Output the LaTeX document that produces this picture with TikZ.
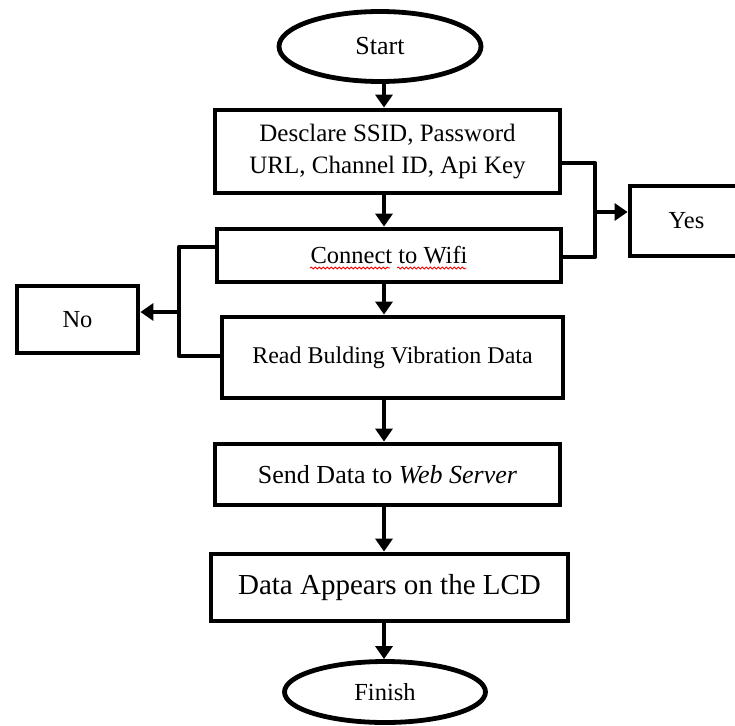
\documentclass[tikz,border=0pt]{standalone}
\usepackage{fontspec}
\setmainfont{Liberation Serif}
\usetikzlibrary{arrows.meta,shapes.geometric,decorations.pathmorphing}
\begin{document}
\begin{tikzpicture}[x=1pt,y=-1pt,
  box/.style={draw, line width=4.8pt, rectangle, inner sep=0pt, align=center,
    font=\fontsize{24.5}{32}\selectfont},
  term/.style={draw, line width=4.8pt, ellipse, inner sep=0pt,
    font=\fontsize{24.5}{30}\selectfont},
  arr/.style={line width=4.8pt, -{Triangle[length=13pt,width=17pt]}},
  link/.style={line width=4.8pt, line join=round},
  squig/.style={red, line width=0.9pt, decorate,
    decoration={snake, segment length=4pt, amplitude=0.9pt}}]
\useasboundingbox (0,0) rectangle (735,725);
\node[term, minimum width=202pt, minimum height=70pt, font=\fontsize{26}{30}\selectfont] (start) at (380,46.5) {Start};
\node[box, minimum width=345pt, minimum height=83pt, font=\fontsize{25}{32}\selectfont] (b1) at (387.5,151.5) {Desclare SSID, Password\\URL, Channel ID, Api Key};
\node[box, minimum width=344pt, minimum height=53pt] (b2) at (389,255.5) {Connect to Wifi};
\node[box, minimum width=341pt, minimum height=81pt, font=\fontsize{24}{30}\selectfont] (b3) at (392.5,357.5) {Read Bulding Vibration Data};
\node[box, minimum width=345pt, minimum height=61pt, font=\fontsize{26}{30}\selectfont] (b4) at (387.5,474.5) {Send Data to \textit{Web Server}};
\node[box, minimum width=357pt, minimum height=67pt, font=\fontsize{29}{34}\selectfont] (b5) at (389.5,587.5) {Data Appears on the LCD};
\node[term, minimum width=201pt, minimum height=61pt] (fin) at (385,692) {Finish};
\node[box, minimum width=113pt, minimum height=70pt] (yes) at (686.5,221) {Yes};
\node[box, minimum width=121pt, minimum height=67pt] (no) at (77.5,319.5) {No};
\coordinate (ax) at (384,0);
\draw[arr] (start.south -| ax) -- (b1.north -| ax);
\draw[arr] (b1.south -| ax) -- (b2.north -| ax);
\draw[arr] (b2.south -| ax) -- (b3.north -| ax);
\draw[arr] (b3.south -| ax) -- (b4.north -| ax);
\draw[arr] (b4.south -| ax) -- (b5.north -| ax);
\draw[arr] (b5.south -| ax) -- (fin.north -| ax);
\coordinate (r1) at (595,163);
\coordinate (r2) at (595,257);
\coordinate (ry) at (595,212);
\draw[link] (b1.east |- r1) -- (r1) -- (r2) -- (b2.east |- r2);
\draw[arr] (ry) -- (yes.west |- ry);
\coordinate (l1) at (179,247);
\coordinate (l2) at (179,356);
\coordinate (ln) at (179,312);
\draw[link] (b2.west |- l1) -- (l1) -- (l2) -- (b3.west |- l2);
\draw[arr] (ln) -- (no.east |- ln);
\draw[squig] (310,268) -- (390,268);
\draw[squig] (397,268) -- (466,268);
\end{tikzpicture}
\end{document}
